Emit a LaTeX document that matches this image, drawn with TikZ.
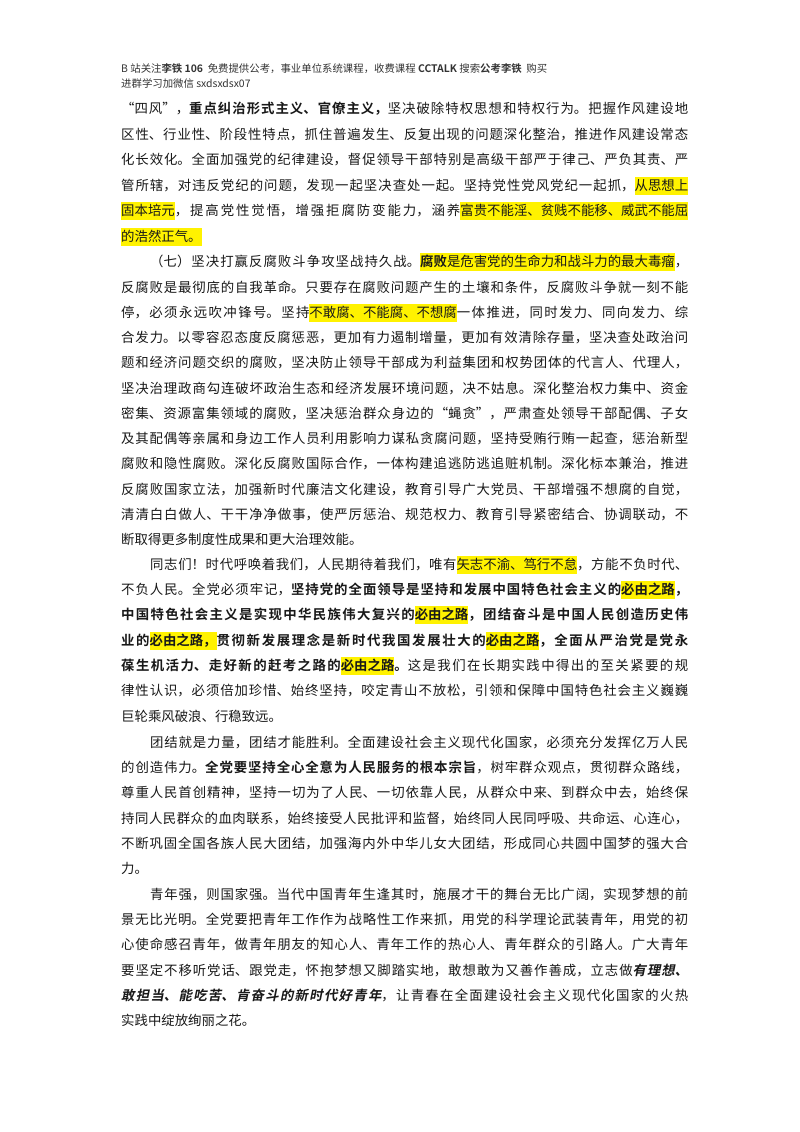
\documentclass[tikz,border=0pt]{standalone}
\usepackage{fontspec}
\setmainfont{Noto Sans CJK SC}[BoldFont={Noto Sans CJK SC Bold},ItalicFont={Noto Sans CJK SC},ItalicFeatures={FakeSlant=0.2},BoldItalicFont={Noto Sans CJK SC Bold},BoldItalicFeatures={FakeSlant=0.2}]
\XeTeXlinebreaklocale "zh"
\XeTeXlinebreakskip=0pt plus 12pt minus 0.3pt
\newcommand\hlt[1]{{\fboxsep=0pt\colorbox{yellow}{\rule[-5pt]{0pt}{18pt}#1}}}
\newcommand\JL[1]{\parbox[t]{567pt}{\parfillskip=0pt\relax\tolerance=10000 #1}}
\newcommand\JI[1]{\parbox[t]{538pt}{\parfillskip=0pt\relax\tolerance=10000 #1}}
\begin{document}
\begin{tikzpicture}[x=1pt,y=-1pt,
  ln/.style={anchor=base west,inner sep=0pt,font=\fontsize{13.4}{14}\selectfont,text=black!90},
  hd/.style={anchor=base west,inner sep=0pt,font=\fontsize{10.4}{11}\selectfont,text=black!80}]
\useasboundingbox[fill=white] (0,0) rectangle (800,1132);
\node[hd] (h1) at (121,72) {B 站关注\textbf{李铁 106}\ \ 免费提供公考，事业单位系统课程，收费课程 \textbf{CCTALK} 搜索\textbf{公考李铁}\ \ 购买};
\node[hd] (h2) at (121,88) {进群学习加微信 sxdsxdsx07};
% P1
\node[ln] (a1) at (121,113) {\JL{“四风”，\textbf{重点纠治形式主义、官僚主义，}坚决破除特权思想和特权行为。把握作风建设地}};
\node[ln] (a2) at (121,139) {\JL{区性、行业性、阶段性特点，抓住普遍发生、反复出现的问题深化整治，推进作风建设常态}};
\node[ln] (a3) at (121,164) {\JL{化长效化。全面加强党的纪律建设，督促领导干部特别是高级干部严于律己、严负其责、严}};
\node[ln] (a4) at (121,190) {\JL{管所辖，对违反党纪的问题，发现一起坚决查处一起。坚持党性党风党纪一起抓，\hlt{从思想上}}};
\node[ln] (a5) at (121,215) {\JL{\hlt{固本培元}，提高党性觉悟，增强拒腐防变能力，涵养\hlt{富贵不能淫、贫贱不能移、威武不能屈}}};
\node[ln] (a6) at (121,241) {\hlt{的浩然正气。}};
% P2
\node[ln] (b1) at (150,266) {\JI{（七）坚决打赢反腐败斗争攻坚战持久战。\hlt{\textbf{腐败}是危害党的生命力和战斗力的最大毒瘤}，}};
\node[ln] (b2) at (121,292) {\JL{反腐败是最彻底的自我革命。只要存在腐败问题产生的土壤和条件，反腐败斗争就一刻不能}};
\node[ln] (b3) at (121,317) {\JL{停，必须永远吹冲锋号。坚持\hlt{不敢腐、不能腐、不想腐}一体推进，同时发力、同向发力、综}};
\node[ln] (b4) at (121,342) {\JL{合发力。以零容忍态度反腐惩恶，更加有力遏制增量，更加有效清除存量，坚决查处政治问}};
\node[ln] (b5) at (121,367) {\JL{题和经济问题交织的腐败，坚决防止领导干部成为利益集团和权势团体的代言人、代理人，}};
\node[ln] (b6) at (121,393) {\JL{坚决治理政商勾连破坏政治生态和经济发展环境问题，决不姑息。深化整治权力集中、资金}};
\node[ln] (b7) at (121,418) {\JL{密集、资源富集领域的腐败，坚决惩治群众身边的“蝇贪”，严肃查处领导干部配偶、子女}};
\node[ln] (b8) at (121,443) {\JL{及其配偶等亲属和身边工作人员利用影响力谋私贪腐问题，坚持受贿行贿一起查，惩治新型}};
\node[ln] (b9) at (121,468) {\JL{腐败和隐性腐败。深化反腐败国际合作，一体构建追逃防逃追赃机制。深化标本兼治，推进}};
\node[ln] (b10) at (121,494) {\JL{反腐败国家立法，加强新时代廉洁文化建设，教育引导广大党员、干部增强不想腐的自觉，}};
\node[ln] (b11) at (121,519) {\JL{清清白白做人、干干净净做事，使严厉惩治、规范权力、教育引导紧密结合、协调联动，不}};
\node[ln] (b12) at (121,544) {断取得更多制度性成果和更大治理效能。};
% P3
\node[ln] (c1) at (150,569) {\JI{同志们！时代呼唤着我们，人民期待着我们，唯有\hlt{矢志不渝、笃行不怠}，方能不负时代、}};
\node[ln] (c2) at (121,594) {\JL{不负人民。全党必须牢记，\textbf{坚持党的全面领导是坚持和发展中国特色社会主义的\hlt{必由之路}，}}};
\node[ln] (c3) at (121,619) {\JL{\textbf{中国特色社会主义是实现中华民族伟大复兴的\hlt{必由之路}，团结奋斗是中国人民创造历史伟}}};
\node[ln] (c4) at (121,645) {\JL{\textbf{业的\hlt{必由之路，}贯彻新发展理念是新时代我国发展壮大的\hlt{必由之路}，全面从严治党是党永}}};
\node[ln] (c5) at (121,670) {\JL{\textbf{葆生机活力、走好新的赶考之路的\hlt{必由之路}。}这是我们在长期实践中得出的至关紧要的规}};
\node[ln] (c6) at (121,695) {\JL{律性认识，必须倍加珍惜、始终坚持，咬定青山不放松，引领和保障中国特色社会主义巍巍}};
\node[ln] (c7) at (121,721) {巨轮乘风破浪、行稳致远。};
% P4
\node[ln] (d1) at (150,747) {\JI{团结就是力量，团结才能胜利。全面建设社会主义现代化国家，必须充分发挥亿万人民}};
\node[ln] (d2) at (121,772) {\JL{的创造伟力。\textbf{全党要坚持全心全意为人民服务的根本宗旨}，树牢群众观点，贯彻群众路线，}};
\node[ln] (d3) at (121,797) {\JL{尊重人民首创精神，坚持一切为了人民、一切依靠人民，从群众中来、到群众中去，始终保}};
\node[ln] (d4) at (121,823) {\JL{持同人民群众的血肉联系，始终接受人民批评和监督，始终同人民同呼吸、共命运、心连心，}};
\node[ln] (d5) at (121,848) {\JL{不断巩固全国各族人民大团结，加强海内外中华儿女大团结，形成同心共圆中国梦的强大合}};
\node[ln] (d6) at (121,873) {力。};
% P5
\node[ln] (e1) at (150,899) {\JI{青年强，则国家强。当代中国青年生逢其时，施展才干的舞台无比广阔，实现梦想的前}};
\node[ln] (e2) at (121,924) {\JL{景无比光明。全党要把青年工作作为战略性工作来抓，用党的科学理论武装青年，用党的初}};
\node[ln] (e3) at (121,949) {\JL{心使命感召青年，做青年朋友的知心人、青年工作的热心人、青年群众的引路人。广大青年}};
\node[ln] (e4) at (121,975) {\JL{要坚定不移听党话、跟党走，怀抱梦想又脚踏实地，敢想敢为又善作善成，立志做\textbf{\textit{有理想、}}}};
\node[ln] (e5) at (121,1000) {\JL{\textbf{\textit{敢担当、能吃苦、肯奋斗的新时代好青年}}，让青春在全面建设社会主义现代化国家的火热}};
\node[ln] (e6) at (121,1025) {实践中绽放绚丽之花。};
\end{tikzpicture}
\end{document}
